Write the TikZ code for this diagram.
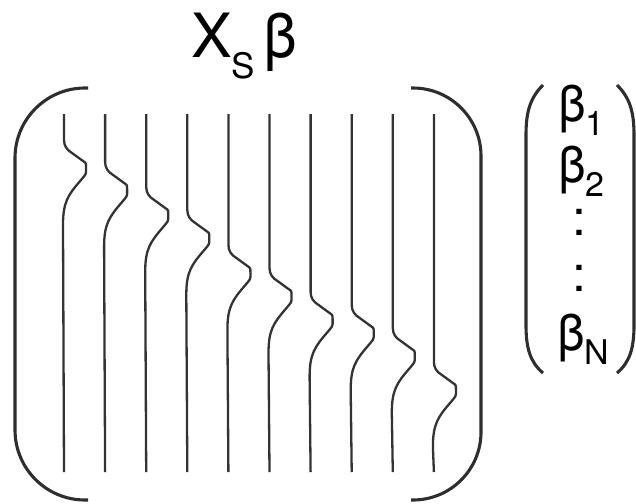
\documentclass[tikz,border=0pt]{standalone}
\usepackage{fontspec}
\setmainfont{TeX Gyre Heros}
\usetikzlibrary{positioning}
\tikzset{
  trace/.style={line width=2.3pt,black!80,line join=round},
  brak/.style={line width=3.1pt,black!82},
  elem/.style={anchor=base west,inner sep=0pt,font=\fontsize{50}{54}\selectfont},
}
\newcommand{\lowsub}[1]{\raisebox{-14pt}{\fontsize{34}{36}\selectfont #1}}

\begin{document}
\begin{tikzpicture}[x=1pt,y=-1pt]
  \useasboundingbox (0,0) rectangle (636,503);
  % title
  \node[anchor=base west,inner sep=0pt] (cim) at (191,57)
    {\fontsize{61}{70}\selectfont X\raisebox{-21pt}{\fontsize{35}{40}\selectfont S}\hspace{8pt}β};
  % matrix brackets
  \draw[brak,rounded corners=70pt] (88,88) -- (15,88) -- (15,500) -- (88,500);
  \draw[brak,rounded corners=68pt] (411,88) -- (481,88) -- (481,500) -- (411,500);
  % traces, bump start per column
  \foreach \i/\s in {0/140,1/162,2/187,3/210,4/245,5/268,6/292,7/305,8/328,9/362} {
    \pgfmathsetmacro\x{64+41.1*\i}
    \draw[trace] (\x,114) -- (\x,\s)
      .. controls (\x,\s+6) and (\x+3,\s+10) .. (\x+8,\s+13)
      -- (\x+19,\s+21) .. controls (\x+22,\s+23) .. (\x+22,\s+27)
      -- (\x+22,\s+32) .. controls (\x+22,\s+34) .. (\x+17,\s+40)
      .. controls (\x+4,\s+55) and (\x-1,\s+62) .. (\x-1,\s+85)
      -- (\x,472);
  }
  % coefficient vector
  \node[elem] (b1) at (558,121) {β\lowsub{1}};
  \node[elem] (b2) at (558,182) {β\lowsub{2}};
  \node[elem] (d1) at (572,235) {:};
  \node[elem] (d2) at (572,291) {:};
  \node[elem] (bN) at (557,350) {β\lowsub{N}};
  \draw[brak] (543,85) .. controls (530,98) and (526,112) .. (526,135)
    -- (526,325) .. controls (526,348) and (530,362) .. (543,373);
  \draw[brak] (617,85) .. controls (630,98) and (634,112) .. (634,135)
    -- (634,325) .. controls (634,348) and (630,362) .. (617,373);
\end{tikzpicture}
\end{document}
